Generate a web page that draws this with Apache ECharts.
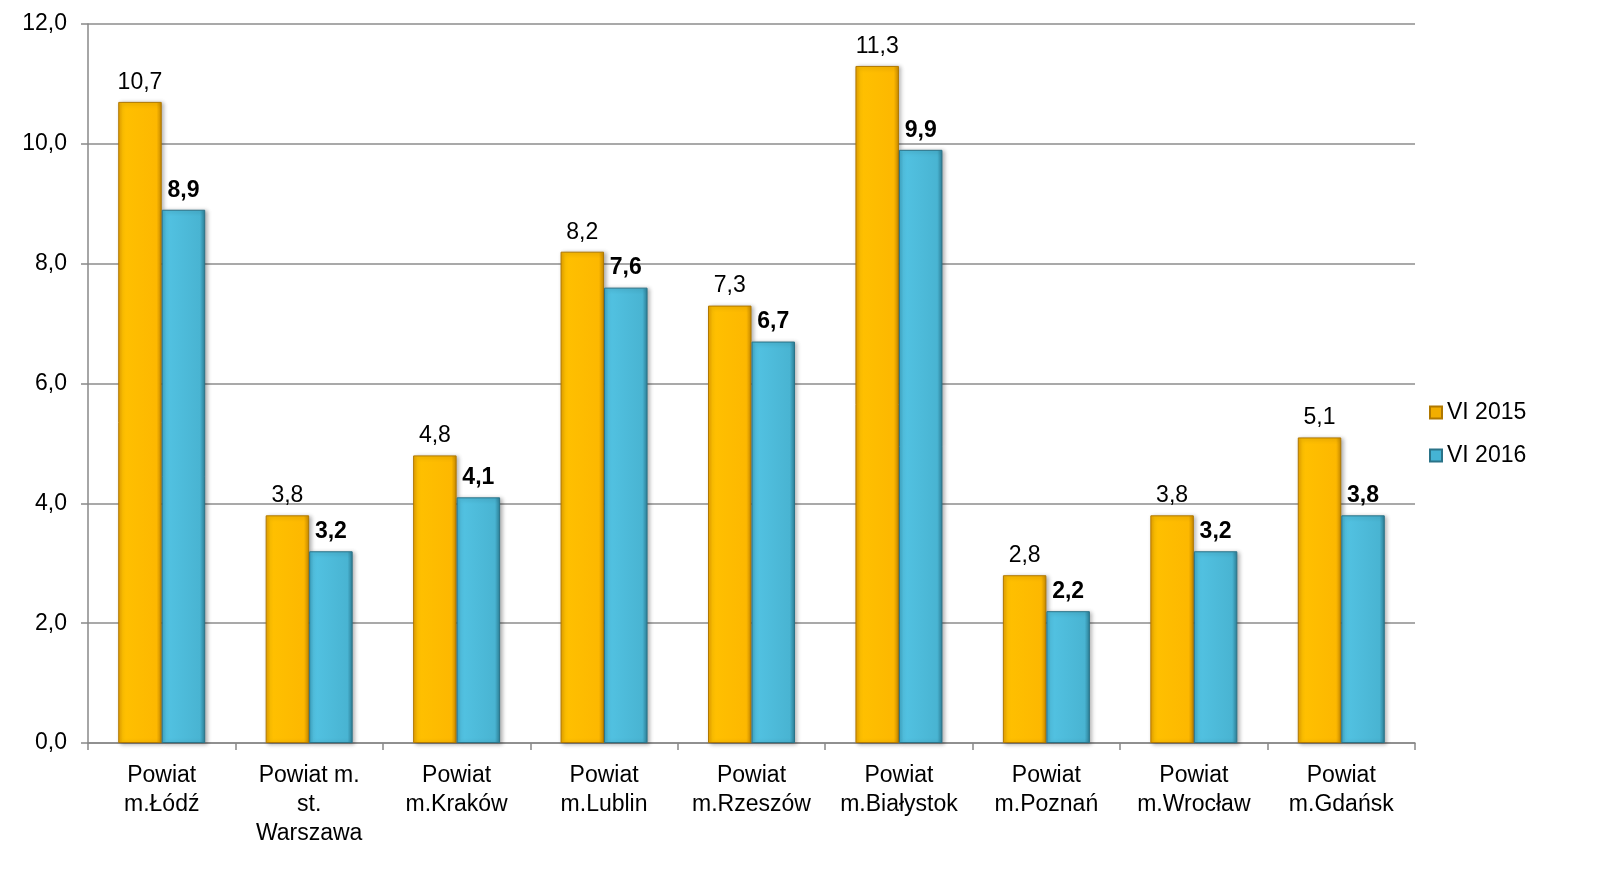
<!DOCTYPE html>
<html>
<head>
<meta charset="utf-8">
<script src="https://cdn.jsdelivr.net/npm/echarts@6/dist/echarts.min.js"></script>
<style>html,body{margin:0;padding:0;background:#fff;}#c{width:1609px;height:869px;}</style>
</head>
<body>
<div id="c"></div>
<script>
const categories = ["Powiat\nm.Łódź", "Powiat m.\nst.\nWarszawa", "Powiat\nm.Kraków", "Powiat\nm.Lublin", "Powiat\nm.Rzeszów", "Powiat\nm.Białystok", "Powiat\nm.Poznań", "Powiat\nm.Wrocław", "Powiat\nm.Gdańsk"];
const seriesNames = ["VI 2015", "VI 2016"];
const values2015 = [10.7, 3.8, 4.8, 8.2, 7.3, 11.3, 2.8, 3.8, 5.1];
const values2016 = [8.9, 3.2, 4.1, 7.6, 6.7, 9.9, 2.2, 3.2, 3.8];
const yTicks = { min: 0, max: 12, interval: 2 };

const fmt = v => v.toFixed(1).replace('.', ',');
const font = 'Liberation Sans, Arial, sans-serif';

const orange = new echarts.graphic.LinearGradient(0, 0, 1, 0, [
  {offset: 0, color: '#E9A200'}, {offset: 0.1, color: '#FFC000'},
  {offset: 0.88, color: '#FDB800'}, {offset: 1, color: '#C88A00'}
]);
const blue = new echarts.graphic.LinearGradient(0, 0, 1, 0, [
  {offset: 0, color: '#3FA8C6'}, {offset: 0.1, color: '#52C2E2'},
  {offset: 0.88, color: '#49B4D2'}, {offset: 1, color: '#2D7F97'}
]);

const chart = echarts.init(document.getElementById('c'));
chart.setOption({
  animation: false,
  backgroundColor: '#fff',
  grid: { left: 88, right: 194, top: 24, bottom: 126, containLabel: false },
  legend: {
    orient: 'vertical', left: 1424, top: 396,
    itemWidth: 12, itemHeight: 12, itemGap: 20,
    textStyle: { fontFamily: font, fontSize: 23, color: '#000' },
    data: [
      { name: seriesNames[0], icon: 'rect', itemStyle: { color: '#F2AE00' } },
      { name: seriesNames[1], icon: 'rect', itemStyle: { color: '#45B4D4' } }
    ]
  },
  xAxis: {
    type: 'category', data: categories,
    axisLine: { lineStyle: { color: '#888', width: 1.5 } },
    axisTick: { show: true, length: 7, lineStyle: { color: '#888', width: 1.5 } },
    axisLabel: { fontFamily: font, fontSize: 23, color: '#000', lineHeight: 29, margin: 18, interval: 0 }
  },
  yAxis: {
    type: 'value', min: yTicks.min, max: yTicks.max, interval: yTicks.interval,
    axisLine: { show: true, lineStyle: { color: '#888', width: 1.5 } },
    axisTick: { show: true, length: 7, lineStyle: { color: '#888', width: 1.5 } },
    splitLine: { lineStyle: { color: '#8c8c8c', width: 1.5 } },
    axisLabel: { fontFamily: font, fontSize: 23, color: '#000', margin: 21, formatter: v => fmt(v) }
  },
  series: [
    {
      name: seriesNames[0], type: 'bar', data: values2015,
      barGap: '0%', barCategoryGap: '41%',
      itemStyle: { color: orange, borderColor: '#B07800', borderWidth: 1, shadowColor: 'rgba(0,0,0,0.3)', shadowBlur: 4, shadowOffsetX: 2, shadowOffsetY: 1 },
      label: { show: true, position: 'top', distance: 8, fontFamily: font, fontSize: 23, color: '#000', formatter: p => fmt(p.value) }
    },
    {
      name: seriesNames[1], type: 'bar', data: values2016,
      itemStyle: { color: blue, borderColor: '#2A7388', borderWidth: 1, shadowColor: 'rgba(0,0,0,0.3)', shadowBlur: 4, shadowOffsetX: 2, shadowOffsetY: 1 },
      label: { show: true, position: 'top', distance: 8, fontFamily: font, fontSize: 23, fontWeight: 'bold', color: '#000', formatter: p => fmt(p.value) }
    }
  ]
});
</script>
</body>
</html>
